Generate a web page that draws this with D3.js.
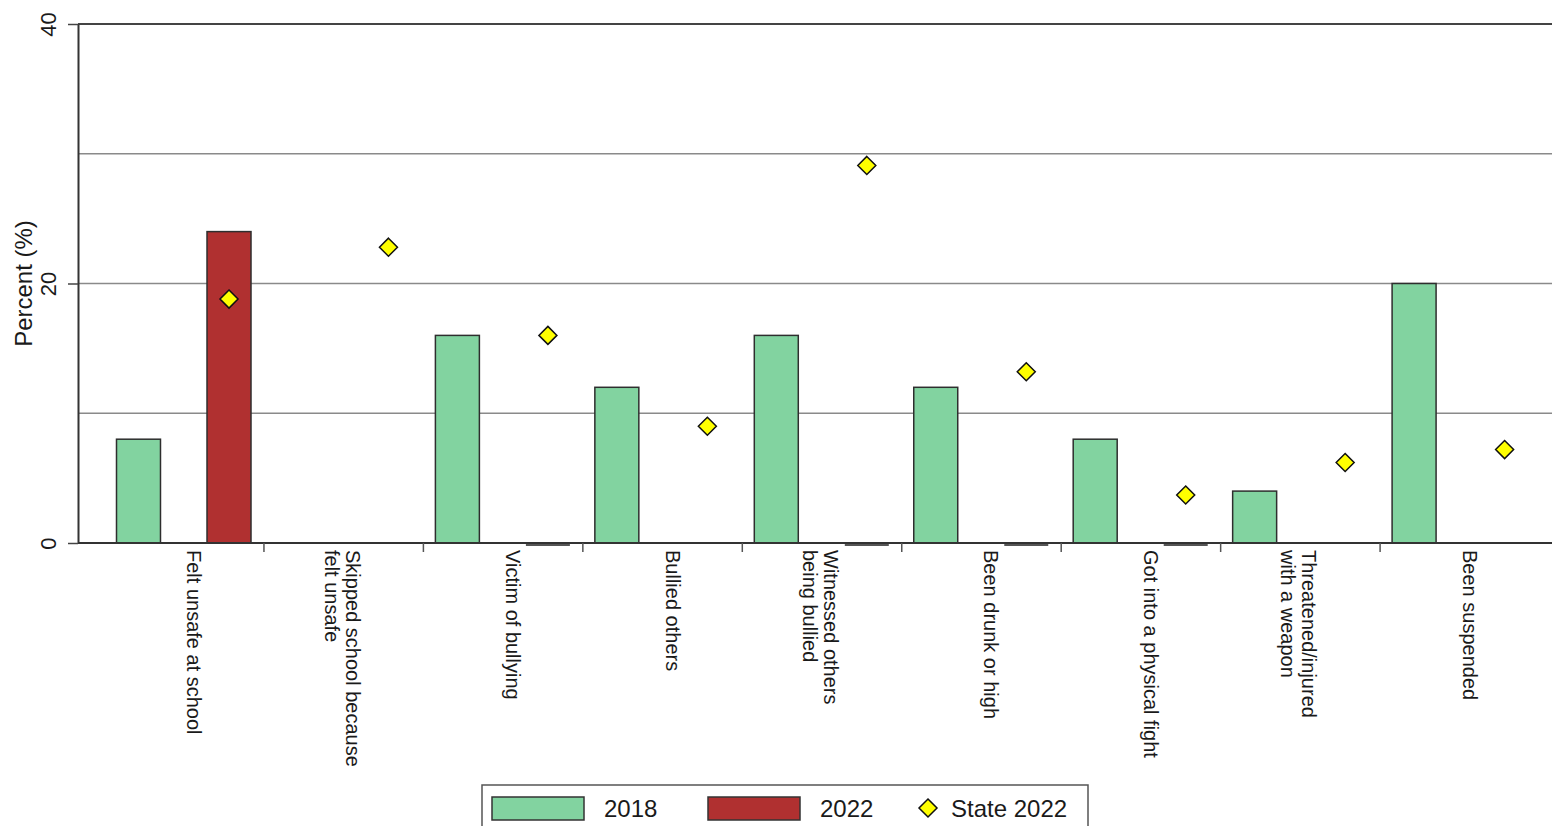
<!DOCTYPE html>
<html>
<head>
<meta charset="utf-8">
<script src="https://cdn.jsdelivr.net/npm/d3@7"></script>
<style>
  body { margin: 0; background: #fff; }
  text { font-family: "Liberation Sans", Arial, sans-serif; fill: #1a1a1a; }
</style>
</head>
<body>
<script>
(function() {
  'use strict';

  // data
  var categories = ["Felt unsafe at school", "Skipped school because|felt unsafe",
                    "Victim of bullying", "Bullied others", "Witnessed others|being bullied",
                    "Been drunk or high", "Got into a physical fight",
                    "Threatened/injured|with a weapon", "Been suspended"];
  var values2018  = [8, null, 16, 12, 16, 12, 8, 4, 20];
  var values2022  = [24, null, 0, null, 0, 0, 0, null, null];
  var valuesState = [18.8, 22.8, 16, 9, 29.1, 13.2, 3.7, 6.2, 7.2];
  var seriesNames = ["2018", "2022"];
  var yTickValues = [0, 20, 40];
  var gridValues  = [10, 20, 30, 40];

  var width = 1552, height = 826,
      left = 78, top = 24, bottom = 543;

  var colors = {"2018": "#82d3a0", "2022": "#b03030"};

  var svg = d3.select("body").append("svg")
              .attr("width", width)
              .attr("height", height);

  var x = d3.scaleBand()
            .domain(d3.range(categories.length))
            .range([104.5, 104.5 + 159.45 * categories.length]);

  var xSub = d3.scaleBand()
               .domain(seriesNames)
               .range([12, 146.5])
               .paddingInner(0.514);

  var y = d3.scaleLinear().domain([0, 40]).range([bottom, top]);

  // gridlines
  svg.append("g").selectAll("line").data(gridValues).enter()
     .append("line")
     .attr("x1", left).attr("x2", width)
     .attr("y1", function(d) { return y(d); })
     .attr("y2", function(d) { return y(d); })
     .attr("stroke", function(d) { return d === 40 ? "#444" : "#8a8a8a"; })
     .attr("stroke-width", function(d) { return d === 40 ? 2 : 1.5; });

  // bars
  var rows = categories.map(function(c, i) {
    return [{s: "2018", v: values2018[i], i: i}, {s: "2022", v: values2022[i], i: i}];
  });
  var bars = d3.merge(rows).filter(function(d) { return d.v !== null; });

  svg.append("g").selectAll("rect").data(bars.filter(function(d) { return d.v > 0; })).enter()
     .append("rect")
     .attr("x", function(d) { return x(d.i) + xSub(d.s); })
     .attr("y", function(d) { return y(d.v); })
     .attr("width", xSub.bandwidth())
     .attr("height", function(d) { return y(0) - y(d.v); })
     .attr("fill", function(d) { return colors[d.s]; })
     .attr("stroke", "#2e2e2e")
     .attr("stroke-width", 1.5);

  // zero-height bars show as a short line under the axis
  svg.append("g").selectAll("line").data(bars.filter(function(d) { return d.v === 0; })).enter()
     .append("line")
     .attr("x1", function(d) { return x(d.i) + xSub(d.s); })
     .attr("x2", function(d) { return x(d.i) + xSub(d.s) + xSub.bandwidth(); })
     .attr("y1", y(0) + 2).attr("y2", y(0) + 2)
     .attr("stroke", "#555")
     .attr("stroke-width", 2);

  // axes
  svg.append("line")
     .attr("x1", left).attr("x2", width)
     .attr("y1", bottom).attr("y2", bottom)
     .attr("stroke", "#333").attr("stroke-width", 2);

  var yAxis = svg.append("g")
                 .attr("transform", "translate(" + left + ",0)")
                 .call(d3.axisLeft(y).tickValues(yTickValues).tickSize(10).tickSizeOuter(0));
  yAxis.select(".domain").attr("stroke", "#333").attr("stroke-width", 2);
  yAxis.selectAll(".tick line").attr("stroke", "#444").attr("stroke-width", 1.5);
  yAxis.selectAll(".tick text")
       .attr("transform", "rotate(-90)")
       .attr("x", 0).attr("y", -22).attr("dy", 0)
       .attr("text-anchor", "middle")
       .style("font-size", "22px")
       .style("font-family", '"Liberation Sans", Arial, sans-serif')
       .attr("fill", "#1a1a1a");

  svg.append("text")
     .attr("transform", "translate(32," + y(20) + ") rotate(-90)")
     .attr("text-anchor", "middle")
     .style("font-size", "24px")
     .text("Percent (%)");

  // category ticks between bands
  svg.append("g").selectAll("line").data(d3.range(categories.length - 1)).enter()
     .append("line")
     .attr("x1", function(d) { return x(d) + x.bandwidth(); })
     .attr("x2", function(d) { return x(d) + x.bandwidth(); })
     .attr("y1", bottom).attr("y2", bottom + 9)
     .attr("stroke", "#555").attr("stroke-width", 1.5);

  // category labels
  var labels = svg.append("g").selectAll("text").data(categories).enter()
     .append("text")
     .attr("transform", function(d, i) {
       return "translate(" + (x(i) + x.bandwidth() / 2) + "," + bottom + ") rotate(90)";
     })
     .style("font-size", "20px");

  labels.each(function(d) {
    var lines = d.split("|");
    var offs = lines.length === 1 ? [-3] : [-2, 19];
    d3.select(this).selectAll("tspan").data(lines).enter()
      .append("tspan")
      .attr("x", 7)
      .attr("y", function(l, j) { return offs[j]; })
      .text(function(l) { return l; });
  });

  // state markers
  var diamond = function(cx, cy, r) {
    return ["M", cx, cy - r, "L", cx + r, cy, "L", cx, cy + r, "L", cx - r, cy, "Z"].join(" ");
  };

  svg.append("g").selectAll("path").data(valuesState).enter()
     .append("path")
     .attr("d", function(d, i) {
       return diamond(x(i) + xSub("2022") + xSub.bandwidth() / 2, y(d), 9);
     })
     .attr("fill", "#ffff00")
     .attr("stroke", "#111")
     .attr("stroke-width", 1.5);

  // legend
  var legend = svg.append("g");
  legend.append("rect")
        .attr("x", 482).attr("y", 785)
        .attr("width", 606).attr("height", 70)
        .attr("fill", "#fff").attr("stroke", "#555").attr("stroke-width", 1.5);

  var legendItems = [{name: "2018", sx: 492, tx: 604},
                     {name: "2022", sx: 708, tx: 820}];
  legend.selectAll("rect.sw").data(legendItems).enter()
        .append("rect").attr("class", "sw")
        .attr("x", function(d) { return d.sx; }).attr("y", 797)
        .attr("width", 92).attr("height", 23)
        .attr("fill", function(d) { return colors[d.name]; })
        .attr("stroke", "#333").attr("stroke-width", 1.5);
  legend.selectAll("text.lt").data(legendItems).enter()
        .append("text").attr("class", "lt")
        .attr("x", function(d) { return d.tx; }).attr("y", 817)
        .style("font-size", "24px")
        .text(function(d) { return d.name; });

  legend.append("path")
        .attr("d", diamond(928, 808, 9))
        .attr("fill", "#ffff00").attr("stroke", "#111").attr("stroke-width", 1.5);
  legend.append("text")
        .attr("x", 951).attr("y", 817)
        .style("font-size", "24px")
        .text("State 2022");

})();
</script>
</body>
</html>
